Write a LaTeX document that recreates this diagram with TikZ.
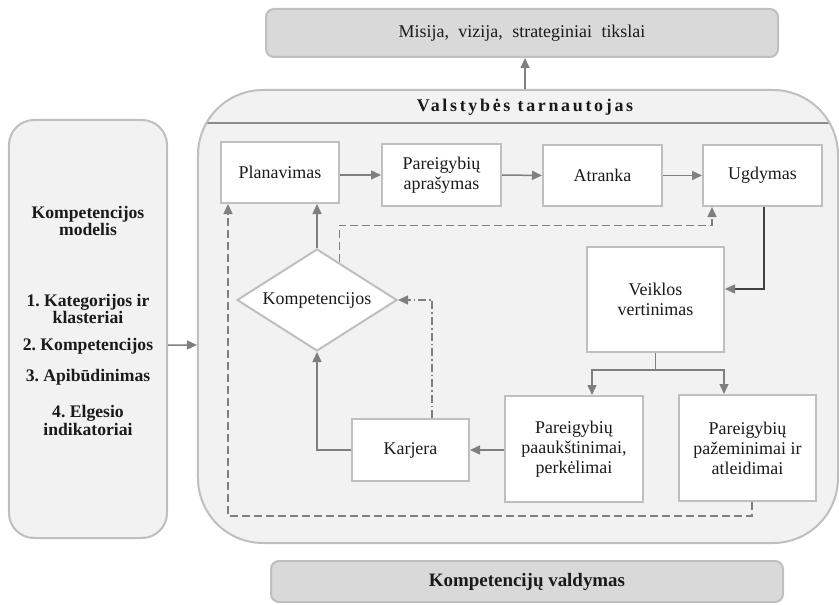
\documentclass[tikz,border=0pt]{standalone}
\usepackage{fontspec}
\setmainfont{Liberation Serif}
\frenchspacing
\usetikzlibrary{arrows.meta,calc,shapes.geometric}
\definecolor{bgfill}{HTML}{F2F2F2}
\definecolor{bord}{HTML}{BFBFBF}
\definecolor{capfill}{HTML}{D9D9D9}
\definecolor{arr}{HTML}{7F7F7F}
\definecolor{darkln}{HTML}{404040}
\definecolor{hdr}{HTML}{8C8C8C}
\definecolor{txt}{HTML}{1A1A1A}
\begin{document}
\begin{tikzpicture}[x=1bp,y=-1bp,
  every node/.style={text=txt, font=\fontsize{18}{20}\selectfont},
  panel/.style={draw=bord, fill=bgfill, line width=2bp, inner sep=0pt},
  capbox/.style={draw=bord, fill=capfill, line width=2bp, rounded corners=8bp, inner sep=0pt},
  box/.style={draw=bord, fill=white, line width=2bp, inner sep=0pt, align=center},
  lefttext/.style={align=center, inner sep=0pt, font=\fontsize{17.7}{18}\selectfont\bfseries},
  arrow/.style={draw=arr, line width=1.5bp, -{Triangle[length=10bp,width=9bp]}},
  dsh/.style={dash pattern=on 8bp off 4bp},
  dshdot/.style={dash pattern=on 8bp off 3bp on 1.5bp off 3bp}]
\useasboundingbox (0,0) rectangle (839,605);

% panels
\node[panel, rounded corners=25bp, minimum width=158bp, minimum height=418bp] (left) at (88,329) {};
\node[panel, rounded corners=65bp, minimum width=640bp, minimum height=453bp,
  path picture={\draw[hdr, line width=1.5bp]
    ($(path picture bounding box.north west)+(0,33)$) -- ($(path picture bounding box.north east)+(0,33)$);}]
  (big) at (518,316.5) {};
\node[capbox, minimum width=512bp, minimum height=48bp, font=\fontsize{18}{20}\selectfont]
  (top) at (522,33) {Misija,\hspace{.28em} vizija,\hspace{.28em} strateginiai\hspace{.28em} tikslai};
\node[capbox, minimum width=512bp, minimum height=41bp, font=\fontsize{19}{20}\selectfont\bfseries]
  (bottom) at (527,581.5) {Kompetencijų valdymas};

\node[font=\fontsize{18}{20}\selectfont\bfseries\addfontfeature{LetterSpace=15}, inner sep=0pt]
  (title) at (525,107) {Valstybės tarnautojas};

% left text
\node[lefttext] (lt1) at (88,221) {Kompetencijos\\modelis};
\node[lefttext] (lt2) at (88,309) {1. Kategorijos ir\\klasteriai};
\node[lefttext] (lt3) at (88,346) {2. Kompetencijos};
\node[lefttext] (lt4) at (88,377) {3. Apibūdinimas};
\node[lefttext] (lt5) at (88,420) {4. Elgesio\\indikatoriai};

% inner boxes
\node[box, minimum width=118bp, minimum height=61bp] (plan) at (280,172.5) {Planavimas};
\node[box, minimum width=119bp, minimum height=62bp] (apr) at (441.5,175) {Pareigybių\\aprašymas};
\node[box, minimum width=119bp, minimum height=61bp] (atr) at (602.5,175.5) {Atranka};
\node[box, minimum width=119bp, minimum height=61bp] (ugd) at (762.5,175.5) {Ugdymas};
\node[box, minimum width=137bp, minimum height=105bp] (veik) at (655.5,299.5) {Veiklos\\vertinimas};
\node[box, minimum width=138bp, minimum height=106bp] (paauk) at (574,449) {Pareigybių\\paaukštinimai,\\perkėlimai};
\node[box, minimum width=137bp, minimum height=106bp] (pazem) at (747.5,448) {Pareigybių\\pažeminimai ir\\atleidimai};
\node[box, minimum width=117bp, minimum height=62bp] (karj) at (410.5,450) {Karjera};
\node[box, shape=diamond, aspect=1.57, minimum width=160bp, minimum height=102bp] (dia) at (317,300) {Kompetencijos};

% connectors
\draw[arrow] (big.north -| title.north) -- (top.south -| title.north);
\draw[arrow] ($(left.east)+(0,16)$) -- ($(big.west)+(0,28.5)$);
\draw[arrow] (plan.east |- apr.west) -- (apr.west);
\draw[arrow] (apr.east) -- (atr.west);
\draw[arrow] (atr.east) -- (ugd.west);
\draw[darkln, line width=1.5bp, -{Triangle[length=10bp,width=9bp,color=arr]}]
  ($(ugd.south)+(1.5,0)$) |- ($(veik.east)+(0,-10.5)$);
\draw[arrow] (veik.south) -- ++(0,17) -| ($(paauk.north)+(18,0)$);
\draw[arrow] (veik.south) -- ++(0,17) -| ($(pazem.north)+(-23.5,0)$);
\draw[arrow] (paauk.west |- karj.east) -- (karj.east);
\draw[arrow] (karj.west) -| (dia.south);
\draw[arrow] (dia.north) -- (dia.north |- plan.south);
\draw[arrow, dshdot] ($(karj.north)+(21.5,0)$) |- (dia.east);
\coordinate (dstart) at ($(dia.north)!0.275!(dia.east)$);
\draw[arrow, dsh] (dstart) -- ++(0,-37) -| ($(ugd.south)+(-50.5,0)$);
\draw[arrow, dsh] ($(pazem.south)+(4.5,0)$) -- ++(0,14) -| ($(plan.south)+(-52,0)$);
\end{tikzpicture}
\end{document}
